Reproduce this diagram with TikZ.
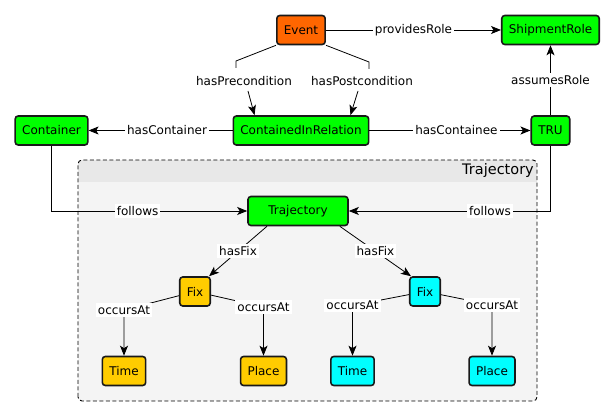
\documentclass[tikz,border=0pt]{standalone}
\usepackage{fontspec}
\setmainfont{DejaVu Sans}
\usetikzlibrary{arrows.meta}
\tikzset{
  cls/.style={draw=black!90, line width=1.6pt, rounded corners=3pt, minimum height=29pt, inner xsep=7pt, font=\fontsize{12}{14}\selectfont},
  rel/.style={fill=white, inner xsep=2pt, inner ysep=2.5pt, font=\fontsize{12}{14}\selectfont},
  edge/.style={draw=black, line width=0.8pt, -{Stealth[length=10pt,width=8pt,inset=2.5pt]}}
}
\begin{document}
\begin{tikzpicture}[x=1pt,y=1pt]
\definecolor{eventColor}{RGB}{255,102,0}
\definecolor{greenColor}{RGB}{0,255,0}
\definecolor{amberColor}{RGB}{255,204,0}
\definecolor{cyanColor}{RGB}{0,255,255}
\definecolor{bodyColor}{RGB}{244,244,244}
\definecolor{headColor}{RGB}{232,232,232}
\path[use as bounding box,fill=white] (0,0) rectangle (613,417);
\begin{scope}
\path[clip,rounded corners=4pt] ( 78, 16) rectangle (537,257);
\path[fill=bodyColor] ( 78, 16) rectangle (537,257);
\path[fill=headColor] ( 78,235) rectangle (537,257);
\end{scope}
\path[draw=black,line width=0.9pt,dash pattern=on 4pt off 2.5pt,rounded corners=4pt] ( 78, 16) rectangle (537,257);
\node[anchor=east,inner sep=1pt,font=\fontsize{14.5}{16}\selectfont] (trajTitle) at (535,246) {Trajectory};

\node[cls,fill=eventColor] (event) at (301,387) {Event};
\node[cls,fill=greenColor] (shipRole) at (550.5,387) {ShipmentRole};
\node[cls,fill=greenColor] (container) at ( 51.5,286.5) {Container};
\node[cls,fill=greenColor] (cir) at (301,286.5) {ContainedInRelation};
\node[cls,fill=greenColor] (tru) at (550.5,286.5) {TRU};
\node[cls,fill=greenColor,minimum width=100pt] (traj) at (298,206) {Trajectory};
\node[cls,fill=amberColor] (fixA) at (195,125.5) {Fix};
\node[cls,fill=cyanColor] (fixB) at (425,125.5) {Fix};
\node[cls,fill=amberColor] (timeA) at (124, 46) {Time};
\node[cls,fill=amberColor] (placeA) at (263.5, 46) {Place};
\node[cls,fill=cyanColor] (timeB) at (352.5, 46) {Time};
\node[cls,fill=cyanColor] (placeB) at (492, 46) {Place};

\coordinate (preA) at (236,356);
\coordinate (preB) at (236,349);
\coordinate (preC) at (248,326);
\coordinate (postA) at (369,355);
\coordinate (postB) at (369,348);
\coordinate (postC) at (358,326);
\node[rel] (preLbl) at (244,336) {hasPrecondition};
\node[rel] (postLbl) at (362,336) {hasPostcondition};

\draw[edge] (event.south west) -- (preA) -- (preB) (preC) -- ([xshift=22pt]cir.north west);
\draw[edge] (event.south east) -- (postA) -- (postB) (postC) -- ([xshift=-19pt]cir.north east);
\draw[edge] (event) -- node[rel] (provLbl) {providesRole} (shipRole);
\draw[edge] (cir) -- node[rel,pos=0.455] (contLbl) {hasContainer} (container);
\draw[edge] (cir) -- node[rel,pos=0.54] (conteeLbl) {hasContainee} (tru);
\draw[edge] (tru) -- node[rel] (assumeLbl) {assumesRole} (shipRole);
\draw[edge] (container) |- node[rel,pos=0.72] (followLblA) {follows} (traj);
\draw[edge] (tru) |- node[rel,pos=0.65] (followLblB) {follows} (traj);
\draw[edge] ([xshift=-31pt]traj.south) -- node[rel] (fixLblA) {hasFix} ([xshift=-2pt]fixA.north east);
\draw[edge] ([xshift=-9pt]traj.south east) -- node[rel] (fixLblB) {hasFix} ([xshift=2pt]fixB.north west);
\draw[edge] (fixA) -- (124,107) node[rel] (occLblA) {occursAt} -- (timeA);
\draw[edge] (fixA) -- (263.5,110) node[rel] (occLblB) {occursAt} -- (placeA);
\draw[edge] (fixB) -- (352.5,111.5) node[rel] (occLblC) {occursAt} -- (timeB);
\draw[edge] (fixB) -- (492,112) node[rel] (occLblD) {occursAt} -- (placeB);
\end{tikzpicture}
\end{document}
